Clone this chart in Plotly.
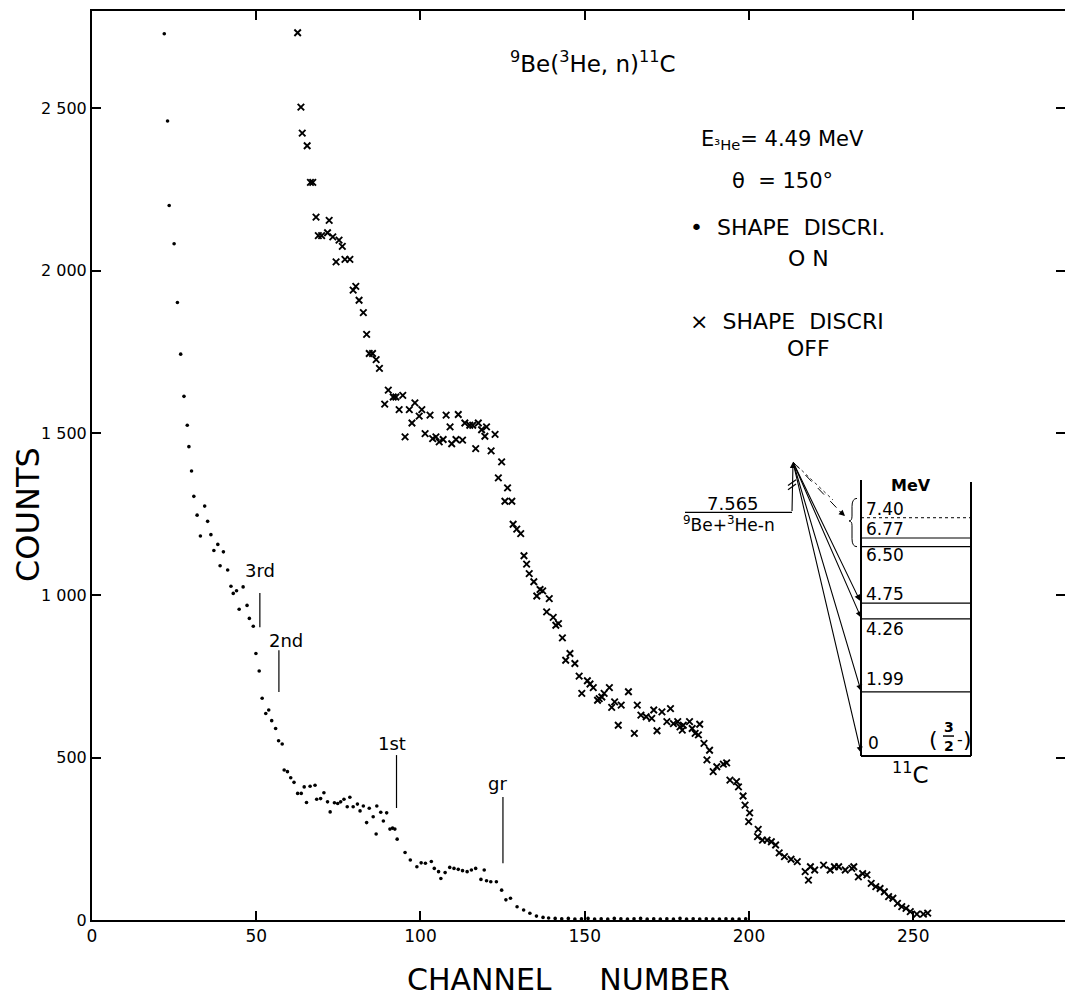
import plotly.graph_objects as go

# ---------------- data ----------------
on_ch = [22, 23, 23.5, 25, 26, 27, 28, 29, 29.5, 30.3, 31, 32, 33, 34.3, 35.2, 36.2, 37.1, 38.3, 39, 40,
         41.3, 42.3, 43, 44, 44.8, 46, 47.2, 47.9, 49.1, 49.9, 50.9, 51.8, 52.9, 53.8, 54.7, 55.9, 56.8,
         57.9, 58.5, 59.5, 60.5, 61.5, 62.6, 63.7, 64.6, 65.3, 66.4, 67.9, 68.4, 69.6, 70.6, 71.7, 72.5,
         73.8, 74.8, 75.7, 76.7, 77.7, 78.5, 79.5, 80.8, 81.6, 82.6, 83.6, 84.4, 85.6, 86.5, 86.7, 87.9,
         88.7, 89.7, 90.7, 91.5, 92.2, 92.9, 95.3, 96.9, 98.9, 100.2, 101.5, 103.3, 104.2, 105.5, 106.2,
         107.5, 108.9, 110.2, 111.5, 112.8, 114.2, 115.5, 116.8, 118.4, 119.4, 120.1, 121.4, 123.1, 124.7,
         126, 127.4, 129.4, 131.4, 133.3, 135.3, 137.3, 139, 141, 143, 145, 147, 149, 151, 153, 155, 157,
         159, 161, 163, 165, 167, 169, 171, 173, 175, 177, 179, 181, 183, 185, 187, 189, 191, 193, 195,
         197, 199]
on_counts = [2730, 2461, 2201, 2083, 1902, 1743, 1613, 1524, 1458, 1383, 1305, 1247, 1183, 1275, 1228, 1187,
             1138, 1157, 1091, 1134, 1078, 1028, 1006, 1014, 957, 1026, 969, 929, 905, 821, 767, 683, 636,
             647, 614, 590, 552, 542, 462, 457, 438, 424, 390, 390, 410, 362, 412, 415, 372, 374, 392, 364,
             333, 361, 359, 364, 372, 349, 378, 349, 357, 336, 351, 300, 344, 318, 265, 351, 332, 305, 330,
             280, 283, 280, 249, 208, 185, 164, 176, 175, 180, 159, 149, 128, 146, 162, 159, 156, 152, 149,
             154, 159, 125, 154, 121, 118, 118, 92, 62, 67, 41, 31, 21, 12, 8, 6, 5, 4, 5, 3, 4, 5, 3, 4, 3,
             5, 4, 3, 4, 5, 3, 4, 3, 4, 3, 5, 3, 4, 3, 4, 3, 3, 4, 3, 3, 4]

off_ch = [62.6, 63.6, 64, 65.5, 66.5, 67.2, 68.2, 68.9, 69.9, 71.7, 72.2, 73.3, 74.3, 75.2, 76.2, 77, 78.5,
          79.5, 80.3, 81.3, 82.6, 83.6, 84.4, 85.4, 86.5, 87.5, 89.1, 90.2, 91.7, 92.5, 93.5, 94.6, 95.3,
          96.6, 97.4, 98.3, 99.6, 100.4, 101.4, 102.9, 103.7, 104.7, 105.7, 106.9, 107.8, 109, 109.5, 110.8,
          111.5, 112.8, 113.5, 115, 115.9, 116.8, 117.6, 118.6, 119.6, 120.1, 121.5, 122.7, 123.7, 124.7,
          125.7, 126.5, 127.8, 128.2, 129.3, 130.5, 131.5, 132.3, 133.1, 134.5, 135.4, 136.4, 137.2, 138.4,
          139.2, 140.4, 141.2, 142, 143.2, 144.2, 145.5, 147, 148.3, 149.1, 150.8, 151.6, 152.6, 153.9,
          154.4, 155.2, 155.9, 157.5, 158.2, 159.1, 160.2, 161.1, 163.3, 165.1, 166, 167.1, 168.7, 170.4,
          171, 172, 173.5, 175, 176.1, 177, 178.3, 179, 179.7, 180, 181.9, 182.7, 183.6, 184.6, 185, 186.3,
          187.2, 188, 189.1, 190.2, 192.2, 193.2, 194.2, 196.2, 196.8, 198.2, 198.8, 199.9, 200.2, 202.6,
          202.8, 204.1, 205.5, 206.8, 208.1, 209.2, 210.8, 212.8, 214.7, 217.1, 218.1, 218.7, 220, 222.7,
          224.7, 226, 227.3, 229.3, 231.3, 231.9, 233.3, 234.6, 235.9, 237.2, 238.6, 239.9, 241.2, 242.5,
          243.8, 245.2, 246.5, 247.8, 249.1, 251.1, 253.1, 254.4]
off_counts = [2733, 2504, 2424, 2385, 2272, 2272, 2165, 2108, 2108, 2117, 2155, 2104, 2027, 2094, 2075, 2035,
              2035, 1940, 1952, 1909, 1871, 1804, 1745, 1745, 1726, 1699, 1589, 1632, 1611, 1611, 1572, 1616,
              1488, 1572, 1531, 1593, 1552, 1572, 1498, 1555, 1483, 1488, 1473, 1480, 1555, 1519, 1467, 1480,
              1557, 1478, 1531, 1524, 1524, 1452, 1531, 1510, 1490, 1519, 1445, 1496, 1362, 1411, 1290, 1331,
              1290, 1219, 1204, 1190, 1122, 1096, 1067, 1042, 998, 1018, 1014, 949, 990, 932, 908, 913, 869,
              800, 821, 790, 751, 698, 737, 727, 716, 677, 682, 687, 698, 716, 655, 672, 600, 662, 703, 575,
              662, 631, 626, 621, 647, 583, 641, 611, 651, 605, 611, 595, 585, 600, 611, 590, 575, 570, 603,
              544, 493, 523, 457, 472, 480, 484, 431, 426, 410, 382, 354, 303, 330, 257, 279, 246, 246, 241,
              231, 207, 195, 187, 180, 149, 123, 164, 154, 169, 154, 164, 164, 154, 159, 164, 133, 143, 139,
              113, 103, 97, 87, 72, 67, 51, 41, 36, 26, 18, 18, 21]

x_ticks = [0, 50, 100, 150, 200, 250]
y_ticks = [0, 500, 1000, 1500, 2000, 2500]
y_tick_text = ["0", "500", "1 000", "1 500", "2 000", "2 500"]

# peak markers: label, channel of marker line, line bottom/top (counts), label position
peak_names = ["3rd", "2nd", "1st", "gr"]
peak_ch = [51.1, 56.9, 92.7, 125.1]
peak_lo = [902, 702, 345, 175]
peak_hi = [1007, 831, 508, 379]
peak_label_ch = [51.0, 59.0, 91.3, 123.3]
peak_label_counts = [1078, 862, 545, 422]

# 11C level scheme (MeV)
levels_mev = [1.99, 4.26, 4.75, 6.50, 6.77, 7.40]
level_text = ["1.99", "4.26", "4.75", "6.50", "6.77", "7.40"]
level_label_shift = [13, -10, 9, -8, 9, 9]
threshold_mev = 7.565
entry_mev = 9.13

FONT = "DejaVu Sans"
W, H = 1065, 998
L, R, T, B = 92, 0, 11, 78
PW, PH = W - L - R, H - T - B
X_RANGE = [0, 296.2]
Y_RANGE = [0, 2800]


def px(x):
    return (x - L) / PW


def py(y):
    return (H - B - y) / PH


fig = go.Figure()

fig.add_trace(go.Scatter(x=on_ch, y=on_counts, mode="markers", name="SHAPE DISCRI. ON",
                         marker=dict(symbol="circle", size=3.6, color="black"), showlegend=False))
fig.add_trace(go.Scatter(x=off_ch, y=off_counts, mode="markers", name="SHAPE DISCRI OFF",
                         marker=dict(symbol="x-thin", size=6.5, color="black",
                                     line=dict(width=1.9, color="black")), showlegend=False))
# empty helper trace so that the right-hand tick axis is drawn
fig.add_trace(go.Scatter(x=[], y=[], yaxis="y3", showlegend=False, hoverinfo="skip"))

# level lines of 11C on the inset axes
lx, ly, dx, dy = [], [], [], []
for e in levels_mev:
    if e == 7.40:
        dx += [861, 971, None]
        dy += [e, e, None]
    else:
        lx += [861, 971, None]
        ly += [e, e, None]
fig.add_trace(go.Scatter(x=lx, y=ly, xaxis="x2", yaxis="y2", mode="lines",
                         line=dict(color="black", width=1.2), showlegend=False, hoverinfo="skip"))
fig.add_trace(go.Scatter(x=dx, y=dy, xaxis="x2", yaxis="y2", mode="lines",
                         line=dict(color="black", width=1, dash="dot"), showlegend=False, hoverinfo="skip"))

shapes = []
annotations = []

# peak marker lines and labels
for name, c, lo, hi, lc, ly_ in zip(peak_names, peak_ch, peak_lo, peak_hi, peak_label_ch, peak_label_counts):
    shapes.append(dict(type="line", xref="x", yref="y", x0=c, x1=c, y0=lo, y1=hi,
                       line=dict(color="black", width=1.2)))
    annotations.append(dict(x=lc, y=ly_, xref="x", yref="y", text=name, showarrow=False,
                            font=dict(family=FONT, size=18, color="black")))

# inset box
box = dict(color="black", width=2)
shapes += [
    dict(type="line", xref="x2", yref="y2", x0=861, x1=861, y0=0, y1=8.57, line=box),
    dict(type="line", xref="x2", yref="y2", x0=971, x1=971, y0=0, y1=8.51, line=box),
    dict(type="line", xref="x2", yref="y2", x0=861, x1=971, y0=0, y1=0, line=box),
    # threshold line
    dict(type="line", xref="x2", yref="y2", x0=685, x1=792, y0=threshold_mev, y1=threshold_mev,
         line=dict(color="black", width=1.3)),
    # break marks
    dict(type="line", xref="x2", yref="y2", x0=788, x1=796, y0=8.27, y1=8.45, line=dict(color="black", width=1.2)),
    dict(type="line", xref="x2", yref="y2", x0=788, x1=796, y0=8.40, y1=8.58, line=dict(color="black", width=1.2)),
    # dashed / dotted transitions toward upper levels
    dict(type="line", xref="x2", yref="y2", x0=793, x1=843, y0=entry_mev, y1=7.5,
         line=dict(color="black", width=1, dash="dash")),
    dict(type="line", xref="x2", yref="y2", x0=793, x1=833, y0=entry_mev, y1=7.95,
         line=dict(color="black", width=0.8, dash="dot")),
    # brace
    dict(type="path", xref="x2", yref="y2",
         path="M 857,8.0 Q 852,8.0 852,7.75 L 852,7.45 Q 852,7.3 849,7.3 Q 852,7.3 852,7.15 "
              "L 852,6.75 Q 852,6.5 857,6.5",
         line=dict(color="black", width=1)),
    # fraction bar
    dict(type="line", xref="x2", yref="y2", x0=943, x1=954, y0=0.62, y1=0.62, line=dict(color="black", width=1.5)),
]

# arrows
arrow_heads = [(793, entry_mev, 792, threshold_mev),
               (861, 0.1, 793, entry_mev),
               (861, 2.02, 793, entry_mev),
               (861, 4.3, 793, entry_mev),
               (860, 4.82, 793, entry_mev),
               (845, 7.45, 838, 7.65)]
for hx, hy, tx, ty in arrow_heads:
    annotations.append(dict(x=hx, y=hy, ax=tx, ay=ty, xref="x2", yref="y2", axref="x2", ayref="y2",
                            text="", showarrow=True, arrowhead=2, arrowsize=1.1, arrowwidth=1.1,
                            arrowcolor="black"))

# level labels
for e, t, s in zip(levels_mev, level_text, level_label_shift):
    annotations.append(dict(x=864, y=e, xref="x2", yref="y2", text=t, xanchor="left", yanchor="middle",
                            yshift=s, showarrow=False, font=dict(family=FONT, size=17, color="black")))
inset_txt = [
    (866, 0.0, "0", 17, "left", 13),
    (911, 8.39, "<b>MeV</b>", 16, "center", 0),
    (910, -0.53, "<sup>11</sup>C", 23, "center", 0),
    (733, threshold_mev, "7.565", 18, "center", 9),
    (729, threshold_mev, "<sup>9</sup>Be+<sup>3</sup>He-n", 17, "center", -12),
    (933, 0.5, "(", 22, "center", 0),
    (948.5, 0.9, "<b>3</b>", 14, "center", 0),
    (948.5, 0.32, "<b>2</b>", 14, "center", 0),
    (960, 0.5, "-", 16, "center", 0),
    (967, 0.5, ")", 22, "center", 0),
]
for x_, y_, t, s, xa, ys in inset_txt:
    annotations.append(dict(x=x_, y=y_, xref="x2", yref="y2", text=t, xanchor=xa, yanchor="middle",
                            yshift=ys, showarrow=False, font=dict(family=FONT, size=s, color="black")))

# header texts
hdr = [
    (593, 62, "<sup>9</sup>Be(<sup>3</sup>He, n)<sup>11</sup>C", 23, "center"),
    (782, 140, "E<sub>³He</sub>= 4.49 MeV", 21, "center"),
    (782, 181, "θ  = 150°", 21, "center"),
    (688, 227, "•  SHAPE  DISCRI.", 22, "left"),
    (808, 258, "O N", 22, "center"),
    (688, 322, "×  SHAPE  DISCRI", 22, "left"),
    (808, 348, "OFF", 22, "center"),
]
for x_, y_, t, s, xa in hdr:
    annotations.append(dict(x=px(x_), y=py(y_), xref="paper", yref="paper", text=t, xanchor=xa,
                            yanchor="middle", showarrow=False, font=dict(family=FONT, size=s, color="black")))

# axis titles
annotations.append(dict(x=px(28), y=py(515), xref="paper", yref="paper", text="COUNTS", textangle=-90,
                        xanchor="center", yanchor="middle",
                        showarrow=False, font=dict(family=FONT, size=32, color="black")))
annotations.append(dict(x=px(568), y=py(980), xref="paper", yref="paper",
                        text="CHANNEL\u00a0\u00a0\u00a0\u00a0\u00a0NUMBER", showarrow=False,
                        xanchor="center", yanchor="middle",
                        font=dict(family=FONT, size=30, color="black")))

tick_style = dict(showgrid=False, zeroline=False, ticks="inside", ticklen=9, tickwidth=1.5,
                  tickcolor="black")

fig.update_layout(
    width=W, height=H,
    margin=dict(l=L, r=R, t=T, b=B),
    paper_bgcolor="white", plot_bgcolor="rgba(0,0,0,0)",
    font=dict(family=FONT, color="black"),
    xaxis=dict(range=X_RANGE, tickvals=x_ticks, tickfont=dict(size=17), showline=True, linecolor="black",
               linewidth=2, mirror="ticks", **tick_style),
    yaxis=dict(range=Y_RANGE, tickvals=y_ticks, ticktext=y_tick_text, tickfont=dict(size=16),
               showline=True, linecolor="black", linewidth=2, mirror=False, **tick_style),
    yaxis3=dict(range=Y_RANGE, tickvals=y_ticks, overlaying="y", side="right", anchor="x",
                showticklabels=False, showline=False, **tick_style),
    xaxis2=dict(domain=[px(680), px(980)], range=[680, 980], anchor="y2", visible=False),
    yaxis2=dict(domain=[py(790), py(440)], range=[-(790 - 756) / 32.2, (756 - 440) / 32.2],
                anchor="x2", visible=False),
    shapes=shapes,
    annotations=annotations,
    showlegend=False,
)

fig.write_html("out.html", config={"displayModeBar": False},
               post_script="document.body.style.margin='0';document.body.style.overflow='hidden';")
